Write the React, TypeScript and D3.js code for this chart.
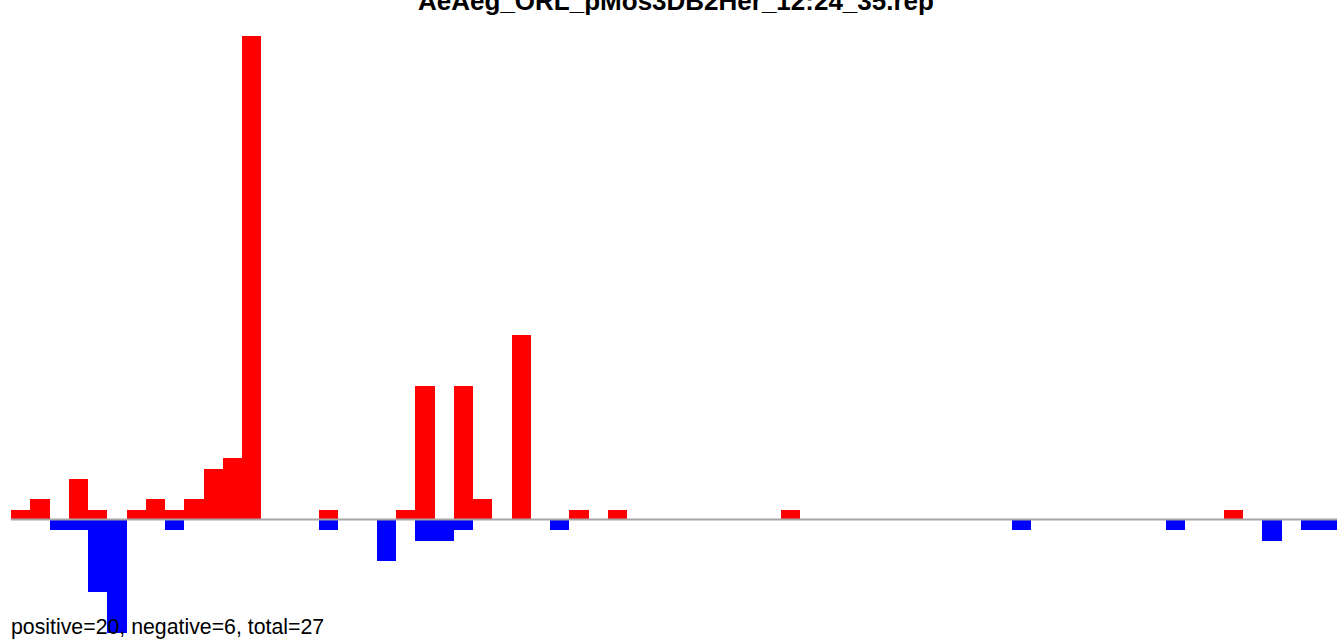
import React from "react";
import * as d3 from "d3";

const title = "AeAeg_ORL_pMos3DB2Her_12:24_35.rep";
const footer = "positive=20, negative=6, total=27";

const positions = d3.range(69);
const positiveValues = [
  1, 2, 0, 4, 1, 0, 1, 2, 1, 2, 5, 6, 47, 0, 0, 0, 1, 0, 0, 0,
  1, 13, 0, 13, 2, 0, 18, 0, 0, 1, 0, 1, 0, 0, 0, 0, 0, 0, 0, 0,
  1, 0, 0, 0, 0, 0, 0, 0, 0, 0, 0, 0, 0, 0, 0, 0, 0, 0, 0, 0,
  0, 0, 0, 1, 0, 0, 0, 0, 0,
];
const negativeValues = [
  0, 0, -1, -1, -7, -11, 0, 0, -1, 0, 0, 0, 0, 0, 0, 0, -1, 0, 0, -4,
  0, -2, -2, -1, 0, 0, 0, 0, -1, 0, 0, 0, 0, 0, 0, 0, 0, 0, 0, 0,
  0, 0, 0, 0, 0, 0, 0, 0, 0, 0, 0, 0, -1, 0, 0, 0, 0, 0, 0, 0,
  -1, 0, 0, 0, 0, -2, 0, -1, -1,
];

export default function App() {
  const W = 1337;
  const H = 641;
  const x = d3
    .scaleBand<number>()
    .domain(positions)
    .range([11, 11 + 69 * 19.25])
    .padding(0);
  const y = d3.scaleLinear().domain([0, 47]).range([520, 36]);

  return (
    <svg
      width={W}
      height={H}
      style={{ position: "absolute", left: 0, top: 0, background: "#fff" }}
      fontFamily="'Liberation Sans', Arial, sans-serif"
    >
      <text
        x={676}
        y={10}
        textAnchor="middle"
        fontWeight="bold"
        fontSize={26}
        fill="#000"
      >
        {title}
      </text>
      {positions.map((p) =>
        positiveValues[p] > 0 ? (
          <rect
            key={"p" + p}
            x={x(p)!}
            y={y(positiveValues[p])}
            width={x.bandwidth()}
            height={y(0) - y(positiveValues[p])}
            fill="#ff0000"
            shapeRendering="crispEdges"
          />
        ) : null
      )}
      {positions.map((p) =>
        negativeValues[p] < 0 ? (
          <rect
            key={"n" + p}
            x={x(p)!}
            y={y(0)}
            width={x.bandwidth()}
            height={y(negativeValues[p]) - y(0)}
            fill="#0000ff"
            shapeRendering="crispEdges"
          />
        ) : null
      )}
      <line
        x1={11}
        x2={W}
        y1={y(0) - 0.5}
        y2={y(0) - 0.5}
        stroke="#a6a6a6"
        strokeWidth={2}
      />
      <text x={11} y={634} fontSize={21.3} fill="#000">
        {footer}
      </text>
    </svg>
  );
}
